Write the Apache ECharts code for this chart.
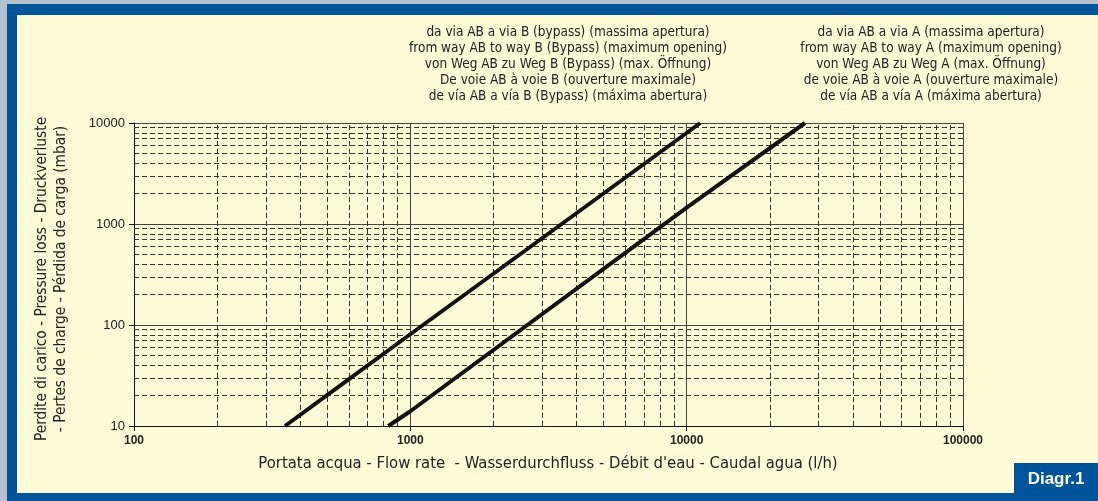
<!DOCTYPE html>
<html>
<head>
<meta charset="utf-8">
<script src="https://cdn.jsdelivr.net/npm/echarts@6/dist/echarts.min.js"></script>
<style>
  html, body { margin: 0; padding: 0; background: #fffbd7; }
  #diagram { width: 1098px; height: 501px; }
</style>
</head>
<body>
<div id="diagram"></div>
<script>
// flow rate (l/h) and pressure loss (mbar)
var flowB = [352, 497, 1000, 11200];
var lossB = [10, 20, 81, 10000];
var flowA = [832, 1000, 10000, 26800];
var lossA = [10, 14, 1450, 10000];

var xTicks = [100, 1000, 10000, 100000];
var yTicks = [10, 100, 1000, 10000];

var captionB = [
  'da via AB a via B (bypass) (massima apertura)',
  'from way AB to way B (Bypass) (maximum opening)',
  'von Weg AB zu Weg B (Bypass) (max. Öffnung)',
  'De voie AB à voie B (ouverture maximale)',
  'de vía AB a vía B (Bypass) (máxima abertura)'
];
var captionA = [
  'da via AB a via A (massima apertura)',
  'from way AB to way A (maximum opening)',
  'von Weg AB zu Weg A (max. Öffnung)',
  'de voie AB à voie A (ouverture maximale)',
  'de vía AB a vía A (máxima abertura)'
];
var xTitle = "Portata acqua - Flow rate  - Wasserdurchfluss - Débit d'eau - Caudal agua (l/h)";
var yTitle = ['Perdite di carico - Pressure loss - Druckverluste',
              '- Pertes de charge - Pérdida de carga (mbar)'];

var narrow = '"Liberation Sans Narrow", "DejaVu Sans Condensed", "Arial Narrow", sans-serif';
var blue = '#00559a';

function pairs(xs, ys) {
  return xs.map(function (x, i) { return [x, ys[i]]; });
}

// dashed minor grid at 2..9 of each decade
function minorValues(ticks) {
  var out = [];
  for (var i = 0; i < ticks.length - 1; i++) {
    for (var m = 2; m <= 9; m++) out.push(ticks[i] * m);
  }
  return out;
}

var gridLines = [];
minorValues(xTicks).forEach(function (v) { gridLines.push({ xAxis: v }); });
minorValues(yTicks).forEach(function (v) { gridLines.push({ yAxis: v }); });

function caption(lines, cx) {
  return {
    type: 'text', x: cx, y: 25,
    style: {
      text: lines.join('\n'), fill: '#222', font: '13.5px ' + narrow,
      align: 'center', lineHeight: 15.8
    }
  };
}

function plain(v) { return String(v); }

var chart = echarts.init(document.getElementById('diagram'));

option = {
  backgroundColor: '#fffbd7',
  animation: false,
  grid: { left: 134, right: 135, top: 123, bottom: 75 },
  xAxis: {
    type: 'log', logBase: 10, min: 100, max: 100000,
    axisLine: { lineStyle: { color: '#111', width: 1 } },
    axisTick: { show: true, length: 5, lineStyle: { color: '#111' } },
    axisLabel: { color: '#222', fontSize: 12, fontWeight: 'bold', formatter: plain,
                 fontFamily: 'Arial, "Liberation Sans", sans-serif', margin: 9 },
    splitLine: { show: true, lineStyle: { color: '#444', width: 1 } }
  },
  yAxis: {
    type: 'log', logBase: 10, min: 10, max: 10000,
    axisLine: { show: true, lineStyle: { color: '#111', width: 1 } },
    axisTick: { show: true, length: 5, lineStyle: { color: '#111' } },
    axisLabel: { color: '#222', fontSize: 13, formatter: plain,
                 fontFamily: 'Arial, "Liberation Sans", sans-serif', margin: 9 },
    splitLine: { show: true, lineStyle: { color: '#444', width: 1 } }
  },
  series: [
    {
      name: 'grid', type: 'line', data: [], silent: true,
      markLine: {
        silent: true, symbol: 'none', label: { show: false },
        lineStyle: { color: '#333', width: 1, type: [5, 3] },
        data: gridLines
      }
    },
    {
      name: 'B', type: 'line', data: pairs(flowB, lossB), showSymbol: false,
      lineStyle: { color: '#111', width: 4 }, z: 5
    },
    {
      name: 'A', type: 'line', data: pairs(flowA, lossA), showSymbol: false,
      lineStyle: { color: '#111', width: 4 }, z: 5
    }
  ],
  graphic: [
    { type: 'rect', shape: { x: 0, y: 0, width: 1098, height: 4 }, style: { fill: '#b6c2d0' } },
    { type: 'rect', shape: { x: 0, y: 0, width: 7, height: 501 }, style: { fill: '#b6c2d0' } },
    { type: 'rect', shape: { x: 7, y: 4, width: 1091, height: 11 }, style: { fill: blue } },
    { type: 'rect', shape: { x: 7, y: 4, width: 10, height: 497 }, style: { fill: blue } },
    { type: 'rect', shape: { x: 7, y: 493, width: 1091, height: 8 }, style: { fill: blue } },
    { type: 'rect', shape: { x: 1014, y: 463, width: 84, height: 30 }, style: { fill: blue } },
    {
      type: 'text', x: 1056, y: 479,
      style: { text: 'Diagr.1', fill: '#fff', font: 'bold 17px Arial, "Liberation Sans", sans-serif', align: 'center', verticalAlign: 'middle' }
    },
    caption(captionB, 568),
    caption(captionA, 931),
    {
      type: 'text', x: 548, y: 464,
      style: { text: xTitle, fill: '#222', font: '16.5px ' + narrow, align: 'center', verticalAlign: 'middle' }
    },
    {
      type: 'text', x: 52, y: 279, rotation: Math.PI / 2,
      style: { text: yTitle.join('\n'), fill: '#222', font: '15.3px ' + narrow, align: 'center', verticalAlign: 'middle', lineHeight: 19 }
    }
  ]
};

chart.setOption(option);
</script>
</body>
</html>
